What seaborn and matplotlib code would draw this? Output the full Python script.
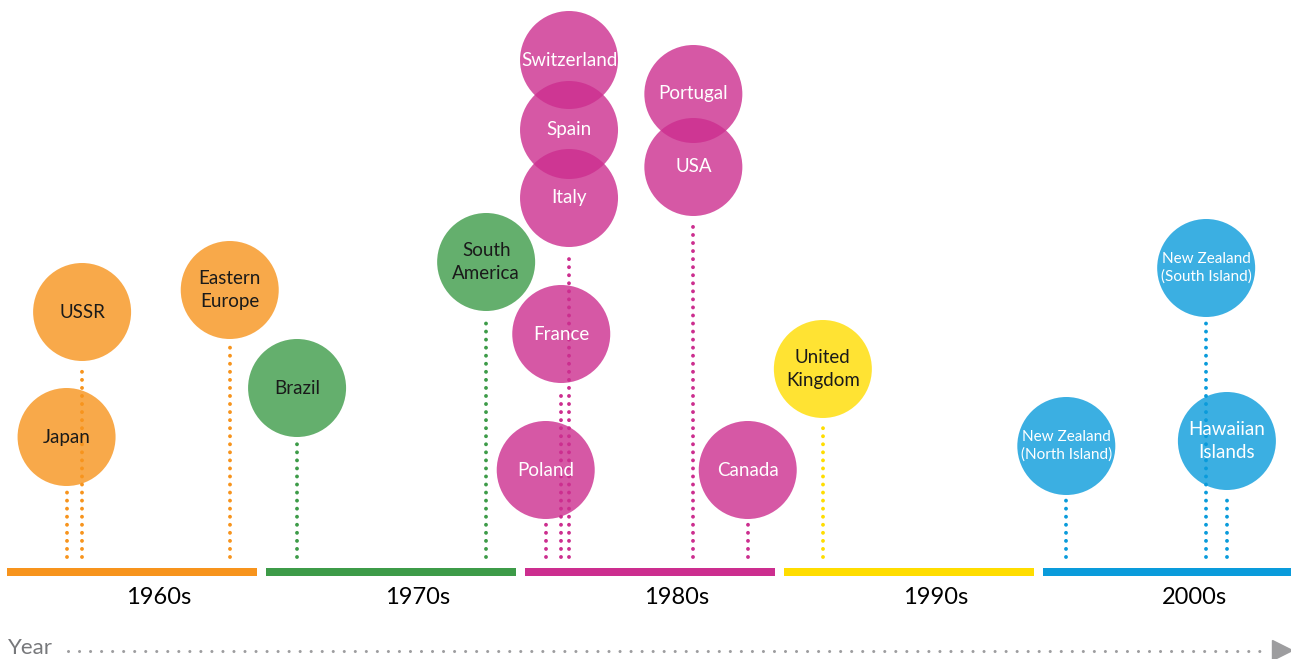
import numpy as np
import pandas as pd
import matplotlib.pyplot as plt
import seaborn as sns

sns.set_theme(style="white")
plt.rcParams['font.family'] = ['Lato', 'DejaVu Sans']

# data
places = ["Japan", "USSR", "Eastern\nEurope", "Brazil", "South\nAmerica",
          "Poland", "France", "Italy", "Spain", "Switzerland", "Portugal", "USA",
          "Canada", "United\nKingdom", "New Zealand\n(North Island)",
          "New Zealand\n(South Island)", "Hawaiian\nIslands"]
years = [1962.3, 1962.9, 1968.6, 1971.2, 1978.5,
         1980.8, 1981.4, 1981.7, 1981.7, 1981.7, 1986.5, 1986.5,
         1988.6, 1991.5, 2000.9,
         2006.3, 2007.1]
levels = [222, 347, 369, 271, 397,
          189, 325, 461, 529, 599, 565, 492,
          189, 290, 213,
          391, 218]
decades = [1960, 1970, 1980, 1990, 2000]
decade_labels = ["1960s", "1970s", "1980s", "1990s", "2000s"]

# styling
bar_colors = {1960: "#F7941D", 1970: "#3D9B48", 1980: "#CC2E8F",
              1990: "#FFDD00", 2000: "#0A9BDB"}
text_colors = {1960: "#1a1a1a", 1970: "#1a1a1a", 1980: "white",
               1990: "#1a1a1a", 2000: "white"}
RADIUS = 49      # circle radius in y units
BASE = 102       # bottom of the dotted stems
BAR_Y = 87
DPI = 100

df = pd.DataFrame({"place": places, "year": years, "level": levels})
df["decade"] = (df["year"] // 10 * 10).astype(int)

fig = plt.figure(figsize=(12.91, 6.59), dpi=DPI)
ax = fig.add_axes([0, 0, 1, 1])
ax.set_xlim(1959.73, 2009.575)
ax.set_ylim(0, 659)
ax.axis("off")

# dotted stems, one per year, up to the lowest circle
stems = df.groupby("year").agg(level=("level", "min"), decade=("decade", "first")).reset_index()
for _, r in stems.iterrows():
    ax.plot([r["year"], r["year"]], [BASE, r["level"] - RADIUS - 5],
            color=bar_colors[r["decade"]], lw=2.8, linestyle=(0, (0.01, 2.06)),
            dash_capstyle="round", zorder=1)

# circles
diam_pt = 2 * RADIUS * 72 / DPI
sns.scatterplot(data=df, x="year", y="level", hue="decade", palette=bar_colors,
                s=diam_pt ** 2, alpha=0.8, linewidth=0, legend=False, ax=ax, zorder=3)

for _, r in df.iterrows():
    nz = r["place"].startswith("New Zealand")
    ax.text(r["year"], r["level"], r["place"], ha="center", va="center",
            color=text_colors[r["decade"]], fontsize=11 if nz else 13.5,
            linespacing=1.34 if nz else 1.45, zorder=4)

# decade bars and labels
for d, lab in zip(decades, decade_labels):
    ax.hlines(BAR_Y, d, d + 9.65, color=bar_colors[d], lw=8 * 72 / DPI, zorder=2)
    ax.text(d + 5.85, 61, lab, ha="center", va="center", fontsize=17, color="black")

# Year axis arrow
ax.text(0.006, 0.017, "Year", transform=ax.transAxes, ha="left", va="center",
        fontsize=16, color="#77787B")
ax.plot([0.053, 0.982], [0.012, 0.012], transform=ax.transAxes, color="#9D9D9F",
        lw=2.2, linestyle=(0, (0.01, 3.6)), dash_capstyle="round", clip_on=False)
ax.plot([0.993], [0.013], transform=ax.transAxes, marker=">", markersize=15,
        color="#9D9D9F", clip_on=False)

fig.savefig("out.png", dpi=DPI)
